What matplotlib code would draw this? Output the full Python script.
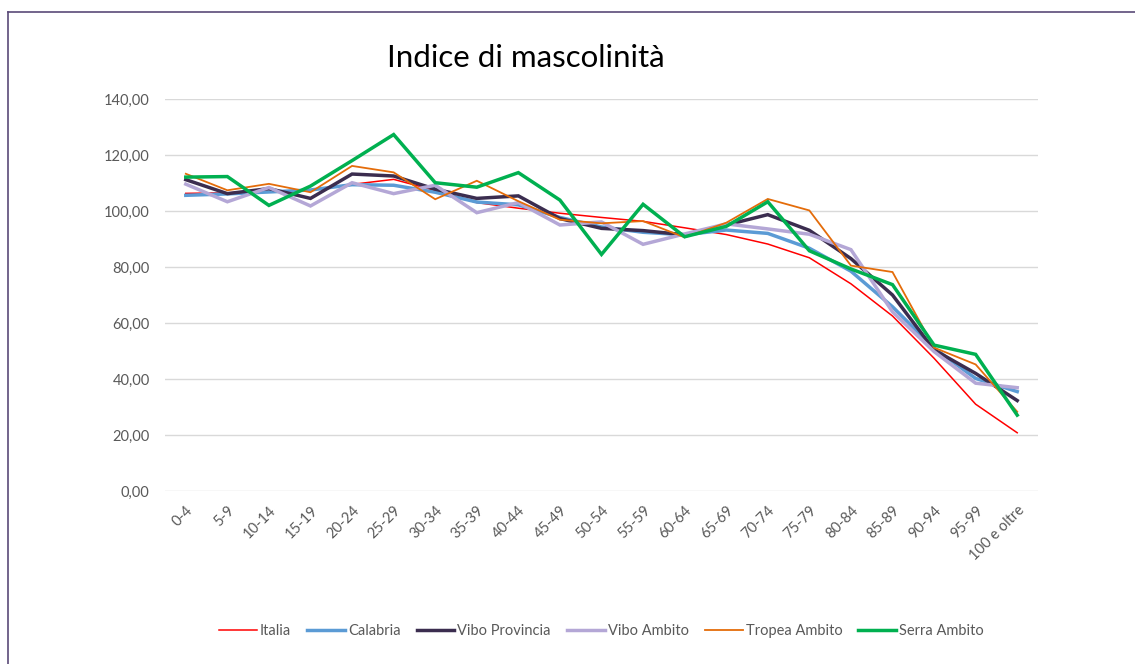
import matplotlib.pyplot as plt
from matplotlib.lines import Line2D

plt.rcParams['font.family'] = ['Lato', 'DejaVu Sans']

classi = ['0-4', '5-9', '10-14', '15-19', '20-24', '25-29', '30-34', '35-39', '40-44',
          '45-49', '50-54', '55-59', '60-64', '65-69', '70-74', '75-79', '80-84', '85-89',
          '90-94', '95-99', '100 e oltre']

italia = [106.3, 106.5, 107.0, 107.5, 109.5, 111.3, 107.3, 103.0, 101.0, 99.2, 97.7,
          96.3, 94.0, 91.6, 88.2, 83.3, 74.0, 62.5, 47.4, 31.0, 20.8]
calabria = [105.6, 106.1, 106.8, 107.5, 109.4, 109.2, 106.7, 103.2, 102.2, 97.7, 94.3,
            92.4, 91.5, 93.2, 92.0, 86.7, 78.5, 65.8, 51.0, 40.2, 35.5]
vibo_provincia = [111.2, 106.2, 108.0, 104.5, 113.2, 112.5, 107.8, 104.5, 105.4, 97.3, 93.8,
                  93.0, 91.5, 95.0, 98.7, 93.1, 83.0, 70.0, 50.4, 42.0, 32.3]
vibo_ambito = [109.6, 103.3, 108.4, 101.8, 110.1, 106.2, 109.2, 99.4, 103.0, 95.0, 96.1,
               88.1, 91.8, 95.4, 93.6, 91.7, 86.2, 64.0, 49.8, 38.5, 36.9]
tropea_ambito = [113.3, 107.4, 109.7, 106.7, 116.1, 113.8, 104.2, 110.8, 103.5, 96.9, 95.6,
                 96.4, 90.6, 95.8, 104.3, 100.2, 80.5, 78.2, 51.2, 45.2, 28.3]
serra_ambito = [112.1, 112.3, 102.0, 108.9, 118.0, 127.3, 110.1, 108.5, 113.7, 103.9, 84.5,
                102.4, 90.8, 94.5, 103.3, 85.8, 79.3, 73.7, 52.1, 48.8, 27.1]

serie = [
    ('Italia', italia, '#FF0000', 1.1),
    ('Calabria', calabria, '#5B9BD5', 2.5),
    ('Vibo Provincia', vibo_provincia, '#3B2D4F', 2.5),
    ('Vibo Ambito', vibo_ambito, '#B4A7D6', 2.5),
    ('Tropea Ambito', tropea_ambito, '#E46C0A', 1.3),
    ('Serra Ambito', serra_ambito, '#00B050', 2.5),
]

fig = plt.figure(figsize=(11.35, 6.64), dpi=100)
ax = fig.add_axes([165 / 1135, 1 - 491 / 664, (1038 - 165) / 1135, (491 - 99) / 664])

x = list(range(len(classi)))
for nome, valori, colore, lw in serie:
    ax.plot(x, valori, color=colore, lw=lw, label=nome, solid_joinstyle='miter')

ax.set_xlim(-0.5, len(classi) - 0.5)
ax.set_ylim(0, 140)
ax.set_yticks(range(0, 141, 20))
ax.set_yticklabels([f'{v},00' for v in range(0, 141, 20)])
ax.set_xticks(x)
ax.set_xticklabels(classi, rotation=45, ha='right', va='top', rotation_mode='anchor')
ax.tick_params(axis='both', length=0, labelsize=10.5, labelcolor='#595959')
ax.tick_params(axis='y', pad=11)
ax.tick_params(axis='x', pad=9)
ax.grid(axis='y', color='#D9D9D9', lw=1)
ax.set_axisbelow(True)
for s in ax.spines.values():
    s.set_visible(False)

fig.text(526 / 1135, 1 - 58 / 664, 'Indice di mascolinità', ha='center', va='center',
         fontsize=22.5, color='#000000')

ax.legend(loc='center', bbox_to_anchor=(0.5, (1 - 631 / 664 - (1 - 491 / 664)) / ((491 - 99) / 664)),
          ncol=6, frameon=False, fontsize=10.5, handlelength=2.6, handletextpad=0.2,
          columnspacing=1.1, labelcolor='#595959')

# cornice del grafico
fig.add_artist(Line2D([8 / 1135, 8 / 1135], [0, 1 - 12 / 664], color='#5A4A78', lw=1.2))
fig.add_artist(Line2D([8 / 1135, 1], [1 - 12 / 664, 1 - 12 / 664], color='#5A4A78', lw=1.2))

fig.savefig('out.png', dpi=100)
